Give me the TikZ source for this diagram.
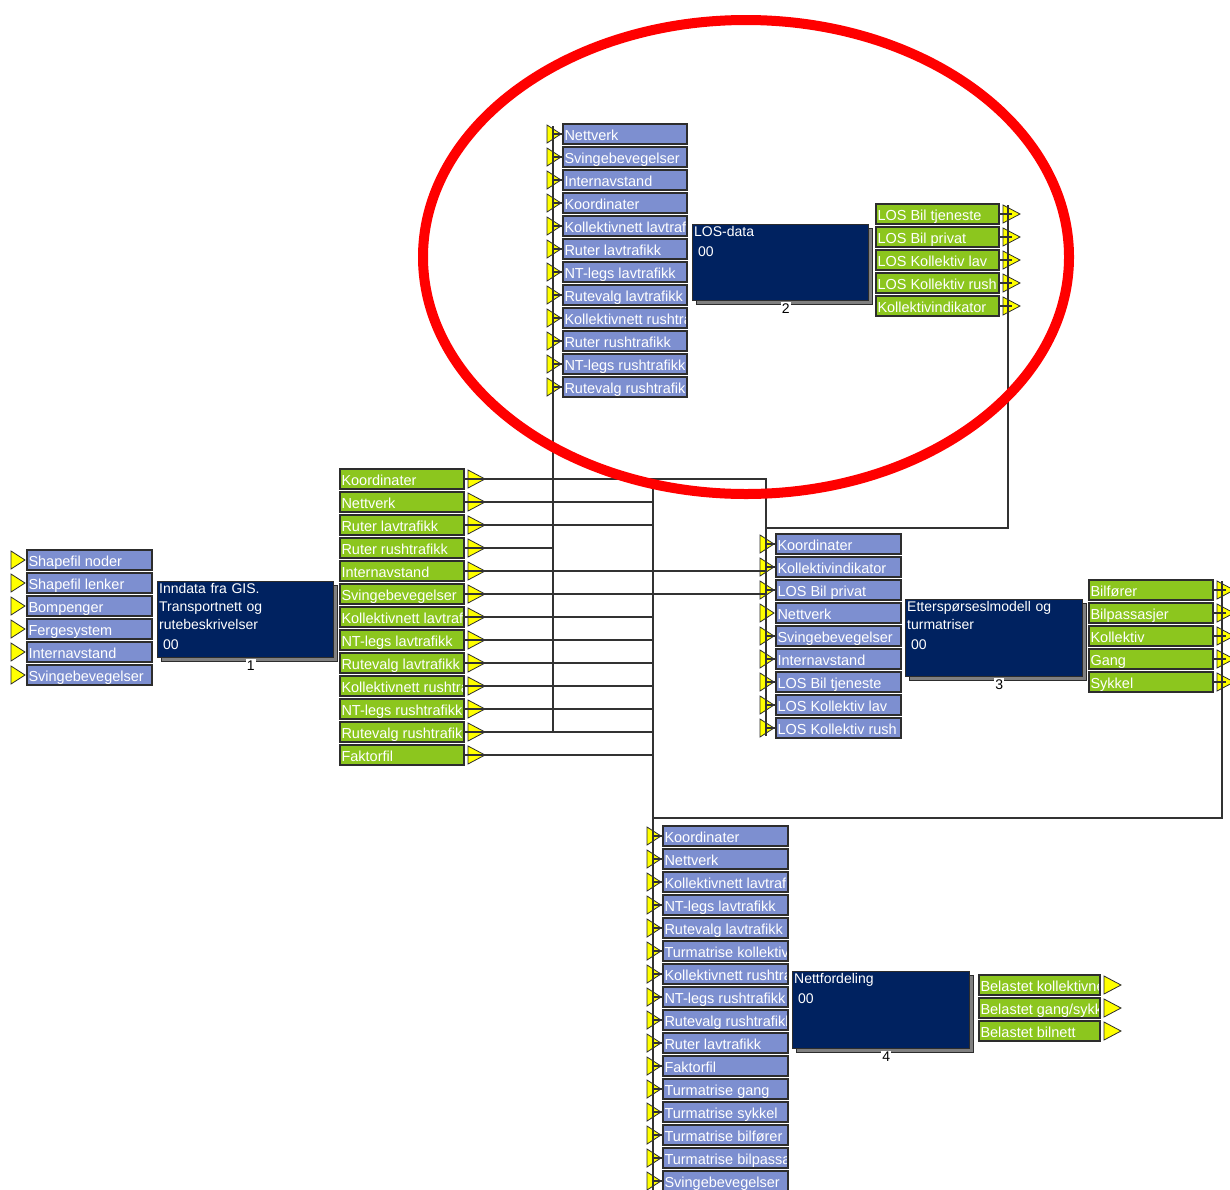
\documentclass[tikz,border=0pt]{standalone}
\usepackage{fontspec}
\setmainfont{Liberation Sans}
\usetikzlibrary{calc,shadows}

\definecolor{portblue}{RGB}{125,143,208}
\definecolor{portgreen}{RGB}{140,198,30}
\definecolor{modnavy}{RGB}{0,34,96}
\definecolor{edgecol}{RGB}{45,45,45}
\definecolor{wirecol}{RGB}{50,50,50}
\definecolor{pinyellow}{RGB}{255,255,0}
\definecolor{shadecol}{RGB}{128,128,128}
\definecolor{markred}{RGB}{255,0,0}

\tikzset{
  portbox/.style={draw=edgecol, line width=1.3pt, minimum height=20pt, inner sep=0pt, outer sep=0pt},
  inbox/.style={portbox, fill=portblue},
  outbox/.style={portbox, fill=portgreen},
  porttext/.style={anchor=west, minimum width=0pt, minimum height=0pt, draw=none, fill=none,
    inner sep=1.5pt, text height=13pt, text depth=1pt, text=white,
    font=\fontsize{14.5}{16}\selectfont},
  tri/.style={fill=pinyellow, draw=edgecol, line width=0.8pt, line join=miter},
  wire/.style={draw=wirecol, line width=1.3pt},
  mainbox/.style={fill=modnavy, draw=edgecol, line width=1.3pt, minimum width=176pt, minimum height=76pt,
    inner sep=0pt, anchor=north west,
    drop shadow={shadow xshift=4pt, shadow yshift=-4pt, fill=shadecol, opacity=1, draw=edgecol}},
  maintext/.style={anchor=north west, text=white, inner sep=2pt, align=left, text width=172pt,
    font=\fontsize{14}{18}\selectfont},
  numlabel/.style={fill=white, inner sep=1pt, font=\fontsize{14}{16}\selectfont},
}

% input port: name, box left x, centre y, width, label (clipped to the box)
\newcommand\inport[5]{%
  \node[inbox, minimum width=#4pt, anchor=west,
        path picture={\node[porttext] at (path picture bounding box.west) {#5};}]
        (#1) at (#2,#3) {};
  \draw[tri] ($(#1.west)+(-16,-9)$) -- ($(#1.west)+(-2,0)$) -- ($(#1.west)+(-16,9)$) -- cycle;
  \coordinate (#1-pin) at ($(#1.west)+(-10,0)$);
}
% output port: name, box left x, centre y, width, label (clipped to the box)
\newcommand\outport[5]{%
  \node[outbox, minimum width=#4pt, anchor=west,
        path picture={\node[porttext] at (path picture bounding box.west) {#5};}]
        (#1) at (#2,#3) {};
  \draw[tri] ($(#1.east)+(4,-9)$) -- ($(#1.east)+(21,0)$) -- ($(#1.east)+(4,9)$) -- cycle;
  \coordinate (#1-pin) at ($(#1.east)+(9,0)$);
}
\newcommand\instub[1]{\draw[wire] (#1-pin) -- (#1.west);}
\newcommand\outstub[1]{\draw[wire] (#1.east) -- ($(#1-pin)+(4,0)$);}

\begin{document}
\begin{tikzpicture}[x=1pt, y=-1pt]
\fill[white] (0,0) rectangle (1230,1189);
\useasboundingbox (0,0) rectangle (1230,1189);

% ---------- module 1 : Inndata fra GIS ----------
\node[mainbox] (m1) at (157,581) {};
\node[maintext] at (m1.north west) {Inndata fra GIS.\\Transportnett og\\rutebeskrivelser\\[2pt]\hspace*{4pt}00};
\node[numlabel] at ($(m1.south)+(5,7)$) {1};
\foreach \nm/\lbl [count=\idx from 0] in {a/Shapefil noder, b/Shapefil lenker, c/Bompenger,
    d/Fergesystem, e/Internavstand, f/Svingebevegelser}
  {\inport{i1\nm}{27}{{560+23*\idx}}{125}{\lbl}}
\foreach \nm/\lbl [count=\idx from 0] in {a/Koordinater, b/Nettverk, c/Ruter lavtrafikk,
    d/Ruter rushtrafikk, e/Internavstand, f/Svingebevegelser, g/Kollektivnett lavtraf,
    h/NT-legs lavtrafikk, i/Rutevalg lavtrafikk, j/Kollektivnett rushtra,
    k/NT-legs rushtrafikk, l/Rutevalg rushtrafik, m/Faktorfil}
  {\outport{o1\nm}{340}{{479+23*\idx}}{124}{\lbl}\outstub{o1\nm}}

% ---------- module 2 : LOS-data ----------
\node[mainbox] (m2) at (692,224) {};
\node[maintext] at (m2.north west) {LOS-data\\[2pt]\hspace*{4pt}00};
\node[numlabel] at ($(m2.south)+(5,7)$) {2};
\foreach \nm/\lbl [count=\idx from 0] in {a/Nettverk, b/Svingebevegelser, c/Internavstand,
    d/Koordinater, e/Kollektivnett lavtrafi, f/Ruter lavtrafikk, g/NT-legs lavtrafikk,
    h/Rutevalg lavtrafikk, i/Kollektivnett rushtra, j/Ruter rushtrafikk,
    k/NT-legs rushtrafikk, l/Rutevalg rushtrafikk}
  {\inport{i2\nm}{563}{{134+23*\idx}}{124}{\lbl}\instub{i2\nm}}
\foreach \nm/\lbl [count=\idx from 0] in {a/LOS Bil tjeneste, b/LOS Bil privat,
    c/LOS Kollektiv lav, d/LOS Kollektiv rush, e/Kollektivindikator}
  {\outport{o2\nm}{876}{{214+23*\idx}}{123}{\lbl}\outstub{o2\nm}}

% ---------- module 3 : Etterspørselsmodell ----------
\node[mainbox, minimum width=177pt, minimum height=77pt] (m3) at (905,599) {};
\node[maintext] at (m3.north west) {Etterspørseslmodell og\\turmatriser\\[2pt]\hspace*{4pt}00};
\node[numlabel] at ($(m3.south)+(5,7)$) {3};
\foreach \nm/\lbl [count=\idx from 0] in {a/Koordinater, b/Kollektivindikator, c/LOS Bil privat,
    d/Nettverk, e/Svingebevegelser, f/Internavstand, g/LOS Bil tjeneste,
    h/LOS Kollektiv lav, i/LOS Kollektiv rush}
  {\inport{i3\nm}{776}{{544+23*\idx}}{125}{\lbl}}
\foreach \nm in {a,b,c,e,f,g,h,i} {\instub{i3\nm}}
\foreach \nm/\lbl [count=\idx from 0] in {a/Bilfører, b/Bilpassasjer, c/Kollektiv, d/Gang, e/Sykkel}
  {\outport{o3\nm}{1089}{{590+23*\idx}}{124}{\lbl}\outstub{o3\nm}}

% ---------- module 4 : Nettfordeling ----------
\node[mainbox, minimum width=177pt, minimum height=77pt] (m4) at (792,971) {};
\node[maintext] at (m4.north west) {Nettfordeling\\[2pt]\hspace*{4pt}00};
\node[numlabel] at ($(m4.south)+(5,7)$) {4};
\foreach \nm/\lbl [count=\idx from 0] in {a/Koordinater, b/Nettverk, c/Kollektivnett lavtrafi,
    d/NT-legs lavtrafikk, e/Rutevalg lavtrafikk, f/Turmatrise kollektiv,
    g/Kollektivnett rushtra, h/NT-legs rushtrafikk, i/Rutevalg rushtrafikk,
    j/Ruter lavtrafikk, k/Faktorfil, l/Turmatrise gang, m/Turmatrise sykkel,
    n/Turmatrise bilfører, o/Turmatrise bilpassa, p/Svingebevegelser}
  {\inport{i4\nm}{663}{{836+23*\idx}}{125}{\lbl}\instub{i4\nm}}
\foreach \nm/\lbl [count=\idx from 0] in {a/Belastet kollektivne, b/{Belastet gang/sykk},
    c/Belastet bilnett}
  {\outport{o4\nm}{979}{{985+23*\idx}}{121}{\lbl}}

% ---------- connections ----------
\coordinate (krow) at (0,528);
\coordinate (lrow) at (0,818);
\coordinate (busend) at (653,1190);

% bus feeding module 2
\draw[wire] ($(i2a-pin)+(0,-8)$) -- (i2a-pin |- o1l-pin);
% bus feeding module 4
\draw[wire] (o1a-pin -| i4a-pin) -- (busend);
% bus feeding module 3
\draw[wire] (o1a-pin) -- (o1a-pin -| i3a-pin) -- ($(i3i-pin)+(0,8)$);

% module 1 outputs
\draw[wire] (o1d-pin) -- (o1d-pin -| i2a-pin);
\foreach \nm in {e,f} {\draw[wire] (o1\nm-pin) -- (o1\nm-pin -| i3a-pin);}
\foreach \nm in {b,c,g,h,i,j,k,l,m} {\draw[wire] (o1\nm-pin) -- (o1\nm-pin -| i4a-pin);}

% module 2 outputs to module 3
\draw[wire] ($(o2a-pin)+(0,-9)$) -- (o2e-pin) -- (o2e-pin |- krow) -- (i3a-pin |- krow);

% module 3 outputs to module 4
\draw[wire] ($(o3a-pin)+(0,-9)$) -- (o3e-pin) -- (o3e-pin |- lrow) -- (i4a-pin |- lrow);

% highlight ring
\draw[markred, line width=10pt] (746,257) ellipse [x radius=323, y radius=237];
\end{tikzpicture}
\end{document}
